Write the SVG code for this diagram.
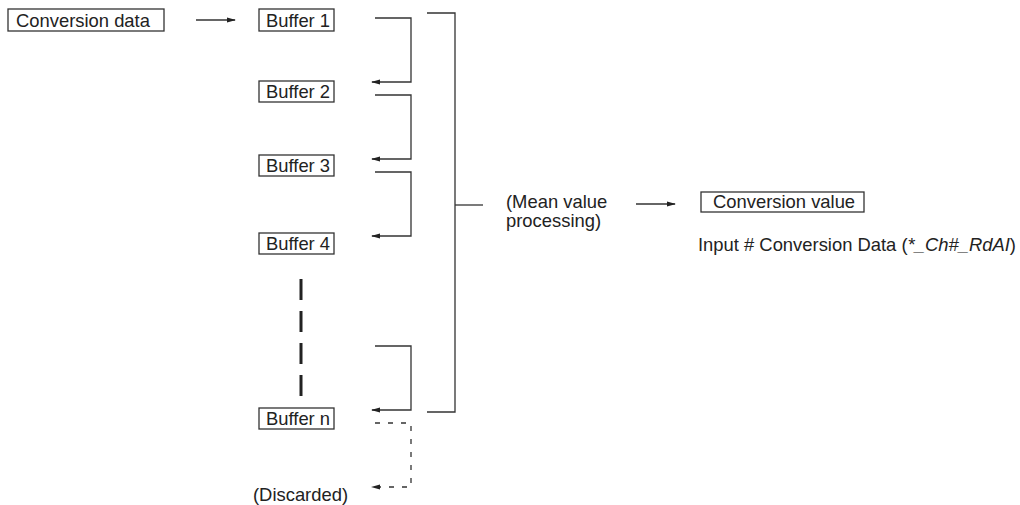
<svg xmlns="http://www.w3.org/2000/svg" width="1020" height="505" viewBox="0 0 1020 505">
<defs>
<marker id="ahr" markerWidth="9" markerHeight="6" refX="8" refY="3" orient="auto" markerUnits="userSpaceOnUse">
<path d="M9,3 L0,0.6 L0,5.4 Z" fill="#222"/>
</marker>
</defs>
<style>
text{font-family:"Liberation Sans",Arial,sans-serif;font-size:18.4px;fill:#222}
.box{fill:#fff;stroke:#333;stroke-width:1.3}
.ln{fill:none;stroke:#333;stroke-width:1.3}
.dash{fill:none;stroke:#333;stroke-width:1.3;stroke-dasharray:5 8}
.dots{fill:none;stroke:#222;stroke-width:3;stroke-dasharray:21 11}
</style>
<g id="conversion-data">
<rect class="box" x="8" y="9" width="156" height="22"/>
<text x="16" y="27">Conversion data</text>
</g>
<g id="buffer-1">
<rect class="box" x="259" y="9" width="75" height="22"/>
<text x="266" y="27">Buffer 1</text>
</g>
<g id="buffer-2">
<rect class="box" x="259" y="81" width="75" height="21"/>
<text x="266" y="98">Buffer 2</text>
</g>
<g id="buffer-3">
<rect class="box" x="259" y="155" width="75" height="21"/>
<text x="266" y="172">Buffer 3</text>
</g>
<g id="buffer-4">
<rect class="box" x="259" y="233" width="75" height="21"/>
<text x="266" y="250">Buffer 4</text>
</g>
<g id="buffer-n">
<rect class="box" x="259" y="408" width="75" height="21"/>
<text x="266" y="425">Buffer n</text>
</g>
<g id="discarded">
<text x="253" y="501">(Discarded)</text>
</g>
<g id="mean-value">
<text x="506" y="208">(Mean value</text>
<text x="506" y="227">processing)</text>
</g>
<g id="conversion-value">
<rect class="box" x="701" y="192" width="163" height="20"/>
<text x="713" y="208">Conversion value</text>
</g>
<g id="input-label">
<text x="698" y="251">Input # Conversion Data (<tspan font-style="italic">*_Ch#_RdAI</tspan>)</text>
</g>
<g id="connectors">
<line class="ln" x1="196" y1="20" x2="235" y2="20" marker-end="url(#ahr)"/>
<path class="ln" d="M375,18 H411 V82 H372" marker-end="url(#ahr)"/>
<path class="ln" d="M375,95 H411 V159 H372" marker-end="url(#ahr)"/>
<path class="ln" d="M375,172 H411 V236 H372" marker-end="url(#ahr)"/>
<path class="ln" d="M375,346 H411 V410 H372" marker-end="url(#ahr)"/>
<path class="dash" d="M375,423 H411 V487 H372" marker-end="url(#ahr)"/>
<path class="ln" d="M427,13 H455 V412 H427"/>
<line class="ln" x1="455" y1="205" x2="483" y2="205"/>
<line class="ln" x1="636" y1="204" x2="675" y2="204" marker-end="url(#ahr)"/>
<line class="dots" x1="301" y1="279" x2="301" y2="397"/>
</g>
</svg>
